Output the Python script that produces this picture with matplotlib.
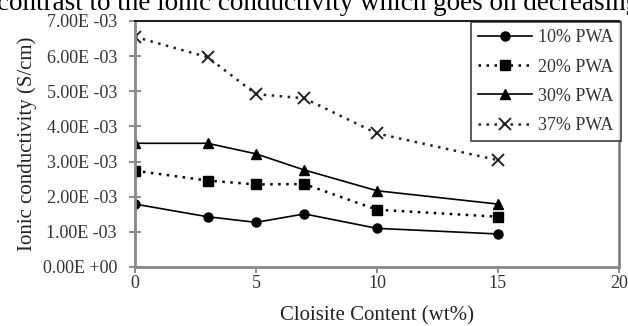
import matplotlib
matplotlib.use("Agg")
import matplotlib.pyplot as plt
from matplotlib.ticker import FuncFormatter

plt.rcParams['font.family'] = ['Liberation Serif', 'DejaVu Serif']

# clay loading (wt%) and conductivity (S/cm) for each PWA level
cloisite = [0, 3, 5, 7, 10, 15]
pwa10 = [1.79e-3, 1.43e-3, 1.27e-3, 1.51e-3, 1.10e-3, 0.94e-3]
pwa20 = [2.74e-3, 2.46e-3, 2.35e-3, 2.36e-3, 1.63e-3, 1.43e-3]
pwa30 = [3.52e-3, 3.52e-3, 3.22e-3, 2.76e-3, 2.17e-3, 1.79e-3]
pwa37 = [6.55e-3, 5.97e-3, 4.92e-3, 4.80e-3, 3.80e-3, 3.04e-3]
labels = ['10% PWA', '20% PWA', '30% PWA', '37% PWA']

fig = plt.figure(figsize=(6.28, 3.26), dpi=100)
ax = fig.add_axes([0.215, 0.181, 0.7705, 0.7546])

dots = (0, (1, 2.2))
ax.plot(cloisite, pwa10, '-', color='black', lw=1.2, marker='o', ms=6.5, label=labels[0])
ax.plot(cloisite, pwa20, linestyle=dots, color='black', lw=1.8, marker='s', ms=6.5, label=labels[1])
ax.plot(cloisite, pwa30, '-', color='black', lw=1.2, marker='^', ms=7, label=labels[2])
ax.plot(cloisite, pwa37, linestyle=dots, color='#222222', lw=1.8, marker='x', ms=8, mew=1.4, label=labels[3])

ax.set_xlim(0, 20)
ax.set_ylim(0, 7e-3)
ax.set_xticks([0, 5, 10, 15, 20])
ax.set_yticks([i * 1e-3 for i in range(8)])


def sci(v, pos):
    m, e = f"{v:.2E}".split("E")
    sign = "-" if e[0] == "-" else "+"
    return f"{m}E {sign}{e[1:]}"


ax.yaxis.set_major_formatter(FuncFormatter(sci))
ax.tick_params(axis='y', direction='inout', length=8, width=1.2, color='#777777',
               labelsize=13, labelcolor='#333333', pad=9)
ax.tick_params(axis='x', direction='out', length=4, width=1.2, color='#777777',
               labelsize=13, labelcolor='#333333', pad=2)

for side in ['left', 'bottom']:
    ax.spines[side].set_color('#888888')
    ax.spines[side].set_linewidth(2)
ax.spines['top'].set_color('#222222')
ax.spines['top'].set_linewidth(1.5)
ax.spines['right'].set_color('#777777')
ax.spines['right'].set_linewidth(1.8)

ax.set_ylabel('Ionic conductivity (S/cm)', fontsize=15, color='#222222', labelpad=4)
ax.set_xlabel('Cloisite Content (wt%)', fontsize=15, color='#222222', labelpad=10)

leg = ax.legend(loc='upper left', bbox_to_anchor=(471 / 628, 1 - 22 / 326),
                bbox_transform=fig.transFigure, fontsize=13, handlelength=3.0,
                borderaxespad=0, frameon=True, fancybox=False, labelspacing=0.68,
                borderpad=0.4, handletextpad=0.3)
leg.get_frame().set_edgecolor('#111111')
leg.get_frame().set_linewidth(1.2)
for t in leg.get_texts():
    t.set_color('#333333')

# running text from the surrounding page, clipped by the top edge
fig.text(-0.004, 1 - 10 / 326, 'contrast to the ionic conductivity which goes on decreasing',
         fontsize=19.5, va='baseline', ha='left', color='black')

fig.savefig('out.png', dpi=100)
